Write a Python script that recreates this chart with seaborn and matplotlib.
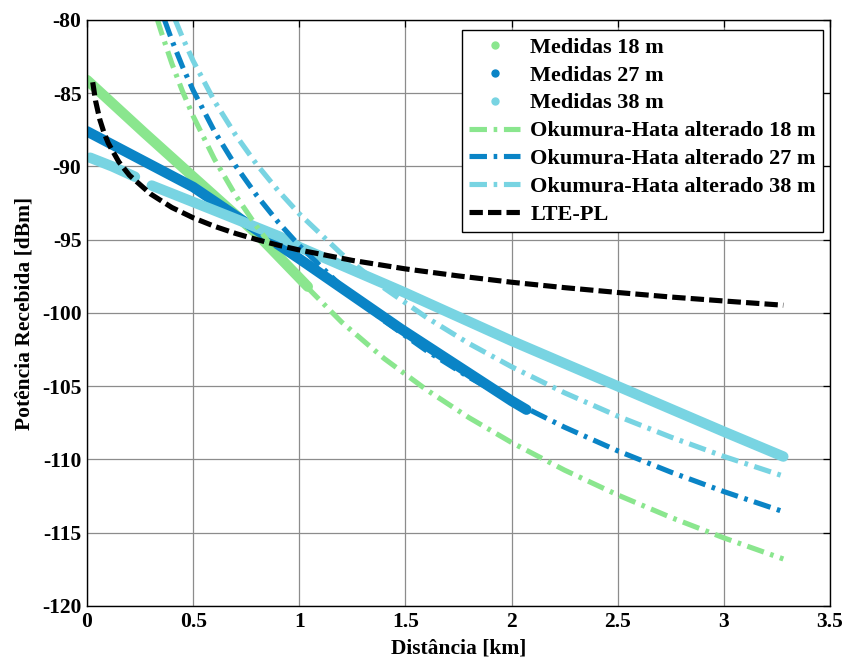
import numpy as np
import pandas as pd
import seaborn as sns
import matplotlib
matplotlib.use("Agg")
import matplotlib.pyplot as plt
from matplotlib.lines import Line2D

# ---- measured received power (dBm) vs distance (km) ----
med18_d = [0.0, 0.27, 0.5, 0.8, 1.0, 1.04]
med18_p = [-84.1, -87.7, -90.7, -94.6, -97.6, -98.2]

med27_d = [0.0, 0.5, 1.0, 1.48, 2.0, 2.07]
med27_p = [-87.6, -91.4, -96.3, -101.1, -106.0, -106.6]

med38a_d = [0.015, 0.12, 0.226]
med38a_p = [-89.4, -90.0, -90.7]
med38b_d = [0.305, 0.6, 0.91, 1.0, 1.48, 2.0, 2.5, 3.0, 3.28]
med38b_p = [-91.3, -93.0, -94.8, -95.5, -98.5, -101.9, -105.0, -108.1, -109.8]

# ---- modified Okumura-Hata predictions ----
oh18_d = [0.33, 0.35, 0.4, 0.45, 0.5, 0.6, 0.7, 0.8, 0.9, 1.0, 1.2, 1.4, 1.6,
          1.8, 2.0, 2.25, 2.5, 2.75, 3.0, 3.28]
oh18_p = [-79.9, -80.83, -82.98, -84.87, -86.56, -89.49, -91.97, -94.11, -96.01,
          -97.70, -100.63, -103.11, -105.25, -107.15, -108.84, -110.73, -112.42,
          -113.95, -115.35, -116.79]

oh27_d = [0.365, 0.4, 0.45, 0.5, 0.6, 0.7, 0.8, 0.9, 1.0, 1.2, 1.4, 1.6, 1.8,
          2.0, 2.25, 2.5, 2.75, 3.0, 3.28]
oh27_p = [-79.99, -81.39, -83.19, -84.80, -87.59, -89.95, -91.99, -93.79, -95.40,
          -98.19, -100.54, -102.58, -104.39, -106.00, -107.80, -109.41, -110.86,
          -112.19, -113.56]

oh38_d = [0.415, 0.45, 0.5, 0.6, 0.7, 0.8, 0.9, 1.0, 1.2, 1.4, 1.6, 1.8, 2.0,
          2.25, 2.5, 2.75, 3.0, 3.28]
oh38_p = [-79.97, -81.20, -82.79, -85.53, -87.85, -89.87, -91.64, -93.23, -95.98,
          -98.30, -100.31, -102.09, -103.67, -105.45, -107.04, -108.47, -109.79,
          -111.13]

# ---- LTE path-loss model ----
lte_d = [0.027, 0.04, 0.06, 0.08, 0.1, 0.15, 0.2, 0.3, 0.4, 0.5, 0.6, 0.7, 0.8,
         0.9, 1.0, 1.25, 1.5, 1.75, 2.0, 2.25, 2.5, 2.75, 3.0, 3.28]
lte_p = [-84.25, -85.5, -86.78, -87.69, -88.4, -89.69, -90.6, -91.88, -92.8,
         -93.5, -94.08, -94.57, -94.99, -95.37, -95.7, -96.41, -96.99, -97.47,
         -97.9, -98.27, -98.6, -98.91, -99.18, -99.47]

labels = ["Medidas 18 m", "Medidas 27 m", "Medidas 38 m",
          "Okumura-Hata alterado 18 m", "Okumura-Hata alterado 27 m",
          "Okumura-Hata alterado 38 m", "LTE-PL"]

xtick_vals = [0, 0.5, 1, 1.5, 2, 2.5, 3, 3.5]
xtick_text = ["0", "0.5", "1", "1.5", "2", "2.5", "3", "3.5"]
ytick_vals = [-120, -115, -110, -105, -100, -95, -90, -85, -80]

GREEN = "#8ae68e"
BLUE = "#0a84c6"
CYAN = "#78d4e2"

sns.set_style("white")
plt.rcParams["font.family"] = ["Liberation Serif", "DejaVu Serif"]
plt.rcParams["font.weight"] = "bold"
plt.rcParams["axes.unicode_minus"] = False
plt.rcParams["text.color"] = "black"
plt.rcParams["axes.labelcolor"] = "black"
plt.rcParams["xtick.color"] = "black"
plt.rcParams["ytick.color"] = "black"

fig = plt.figure(figsize=(8.43, 6.62), dpi=100)
ax = fig.add_axes([0.1032, 0.0846, 0.8814, 0.8852])

def measured(d, p, color):
    df = pd.DataFrame({"d": d, "p": p})
    sns.lineplot(data=df, x="d", y="p", ax=ax, color=color, linewidth=7.5,
                 estimator=None, sort=False, solid_capstyle="round",
                 solid_joinstyle="round")

def model(d, p, color, dashes):
    df = pd.DataFrame({"d": d, "p": p})
    sns.lineplot(data=df, x="d", y="p", ax=ax, color=color, linewidth=3.7,
                 estimator=None, sort=False)
    ln = ax.lines[-1]
    ln.set_dashes(dashes)
    ln.set_dash_capstyle("butt")

DASHDOT = (3.4, 1.3, 0.7, 1.3)
DASH = (2.6, 1.0)

measured(med18_d, med18_p, GREEN)
measured(med27_d, med27_p, BLUE)
measured(med38a_d, med38a_p, CYAN)
measured(med38b_d, med38b_p, CYAN)

model(oh18_d, oh18_p, GREEN, DASHDOT)
model(oh27_d, oh27_p, BLUE, DASHDOT)
model(oh38_d, oh38_p, CYAN, DASHDOT)
model(lte_d, lte_p, "black", DASH)

ax.set_xlim(0, 3.5)
ax.set_ylim(-120, -80)
ax.set_xticks(xtick_vals)
ax.set_xticklabels(xtick_text)
ax.set_yticks(ytick_vals)
ax.set_yticklabels([str(v) for v in ytick_vals])
ax.grid(True, color="#8c8c8c", linewidth=0.9, linestyle="-")
ax.set_axisbelow(True)
for s in ax.spines.values():
    s.set_color("black")
    s.set_linewidth(1.0)
ax.tick_params(direction="in", length=5, width=0.9, top=True, right=True,
               labelsize=15.5, pad=4, colors="black")
for t in ax.get_xticklabels() + ax.get_yticklabels():
    t.set_fontweight("bold")

ax.set_xlabel("Distância [km]", fontsize=15.5, fontweight="bold", labelpad=5)
ax.set_ylabel("Potência Recebida [dBm]", fontsize=15.5, fontweight="bold", labelpad=5)

handles = [
    Line2D([], [], color=GREEN, marker="o", markersize=5, linestyle="none"),
    Line2D([], [], color=BLUE, marker="o", markersize=5, linestyle="none"),
    Line2D([], [], color=CYAN, marker="o", markersize=5, linestyle="none"),
    Line2D([], [], color=GREEN, linewidth=3.7, dashes=DASHDOT),
    Line2D([], [], color=BLUE, linewidth=3.7, dashes=DASHDOT),
    Line2D([], [], color=CYAN, linewidth=3.7, dashes=DASHDOT),
    Line2D([], [], color="black", linewidth=3.7, dashes=DASH),
]
leg = ax.legend(handles, labels, loc="upper right", bbox_to_anchor=(0.9906, 0.983),
                fontsize=16, frameon=True, fancybox=False, framealpha=1,
                edgecolor="black", borderpad=0.32, labelspacing=0.33,
                handlelength=2.3, handletextpad=0.45, borderaxespad=0.0)
leg.get_frame().set_linewidth(1.0)
for t in leg.get_texts():
    t.set_fontweight("bold")
    t.set_color("black")

fig.savefig("out.png", dpi=100)
